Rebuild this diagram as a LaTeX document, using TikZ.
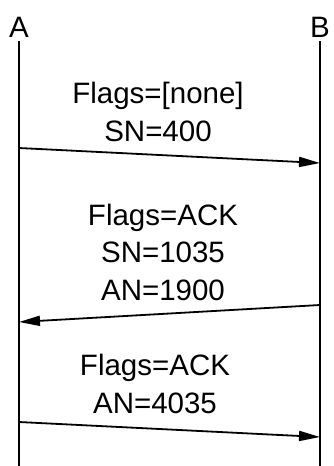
\documentclass[tikz,border=0pt]{standalone}
\usepackage{fontspec}
\setmainfont{Liberation Sans}
\usetikzlibrary{arrows.meta}

\begin{document}
\begin{tikzpicture}[x=1pt,y=-1pt,>={Triangle[length=21pt,width=10pt]},
                    line width=1.8pt]

  \tikzstyle{every node}=[font=\fontsize{29.5}{37.5}\selectfont]
  \tikzstyle{msg}=[align=center,inner sep=0pt]

  \useasboundingbox (0,0) rectangle (333,466);

  % hosts and their lifelines
  \node (A) at (19,27)  {A};
  \node (B) at (320,27) {B};
  \coordinate (Aend) at (19,466);
  \coordinate (Bend) at (320,466);
  \draw (A) -- (Aend);
  \draw (B) -- (Bend);

  % message ends
  \coordinate (a1) at (19,148);
  \coordinate (b1) at (320,163);
  \coordinate (b2) at (320,305);
  \coordinate (a2) at (19,322);
  \coordinate (a3) at (19,422);
  \coordinate (b3) at (320,437);

  \node[msg] (M1) at (158,112) {Flags=[none] \\ SN=400};
  \node[msg] (M2) at (163,252) {Flags=ACK \\ SN=1035 \\ AN=1900};
  \node[msg] (M3) at (155,384) {Flags=ACK \\ AN=4035};

  \draw[->] (a1) -- (b1);
  \draw[->] (b2) -- (a2);
  \draw[->] (a3) -- (b3);
\end{tikzpicture}
\end{document}
